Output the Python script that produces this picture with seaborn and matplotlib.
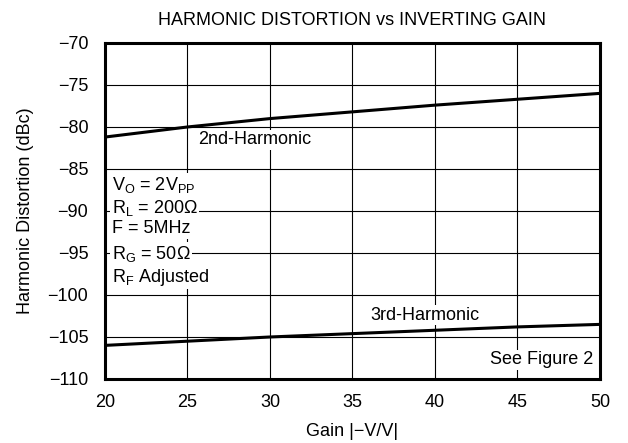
import pandas as pd
import seaborn as sns
import matplotlib.pyplot as plt

# === Data ===
gain = [20, 25, 30, 35, 40, 45, 50]
second_harm = [-81.2, -80.0, -79.0, -78.2, -77.4, -76.7, -76.0]
third_harm = [-106.0, -105.5, -105.0, -104.6, -104.2, -103.8, -103.5]

df = pd.DataFrame({
    "gain": gain * 2,
    "hd": second_harm + third_harm,
    "series": ["2nd"] * len(gain) + ["3rd"] * len(gain),
})

sns.set_style("white")
plt.rcParams["font.family"] = ["Liberation Sans", "DejaVu Sans"]
plt.rcParams["mathtext.fontset"] = "custom"
plt.rcParams["mathtext.rm"] = "Liberation Sans"
plt.rcParams["mathtext.it"] = "Liberation Sans:italic"
plt.rcParams["axes.unicode_minus"] = True
plt.rcParams["text.color"] = "black"
plt.rcParams["axes.labelcolor"] = "black"

FS = 13

fig = plt.figure(figsize=(6.28, 4.43), dpi=100)
ax = fig.add_axes([0.1672, 0.1445, 0.7882, 0.7585])

sns.lineplot(data=df, x="gain", y="hd", hue="series", palette=["black", "black"],
             linewidth=2.2, legend=False, ax=ax)

ax.set_xlim(20, 50)
ax.set_ylim(-110, -70)
ax.set_xticks(range(20, 51, 5))
ax.set_yticks(range(-110, -69, 5))
ax.grid(True, color="black", linewidth=0.8)
ax.set_axisbelow(True)
for s in ax.spines.values():
    s.set_color("black")
    s.set_linewidth(2.2)
ax.tick_params(axis="both", length=0, labelsize=FS, colors="black")
ax.tick_params(axis="y", pad=12)
ax.tick_params(axis="x", pad=11)

ax.set_title("HARMONIC DISTORTION vs INVERTING GAIN", fontsize=FS, y=1.068,
             va="center", pad=0, color="black")
ax.set_xlabel("Gain |\u2212V/V|", fontsize=FS, color="black")
ax.set_ylabel("Harmonic Distortion (dBc)", fontsize=FS, color="black")
ax.xaxis.set_label_coords(0.5, -0.155)
ax.xaxis.label.set_va("center")
ax.yaxis.set_label_coords(-0.16, 0.5)
ax.yaxis.label.set_va("center")

box = dict(facecolor="white", edgecolor="none", pad=1)
ax.text(29.1, -81.5, "2nd-Harmonic", ha="center", va="center", fontsize=FS, bbox=box)
ax.text(39.4, -102.4, "3rd-Harmonic", ha="center", va="center", fontsize=FS, bbox=box)
ax.text(49.6, -107.7, "See Figure 2", ha="right", va="center", fontsize=FS, bbox=box)

conds = [
    (-86.9, r"V$_\mathrm{O}$ = 2V$_\mathrm{PP}$"),
    (-89.6, "R$_\\mathrm{L}$ = 200\u03a9"),
    (-92.1, "F = 5MHz"),
    (-95.1, "R$_\\mathrm{G}$ = 50\u03a9"),
    (-97.9, "R$_\\mathrm{F}$ Adjusted"),
]
for yv, txt in conds:
    ax.text(20.4, yv, txt, ha="left", va="center", fontsize=FS, bbox=box)

fig.savefig("out.png", dpi=100)
